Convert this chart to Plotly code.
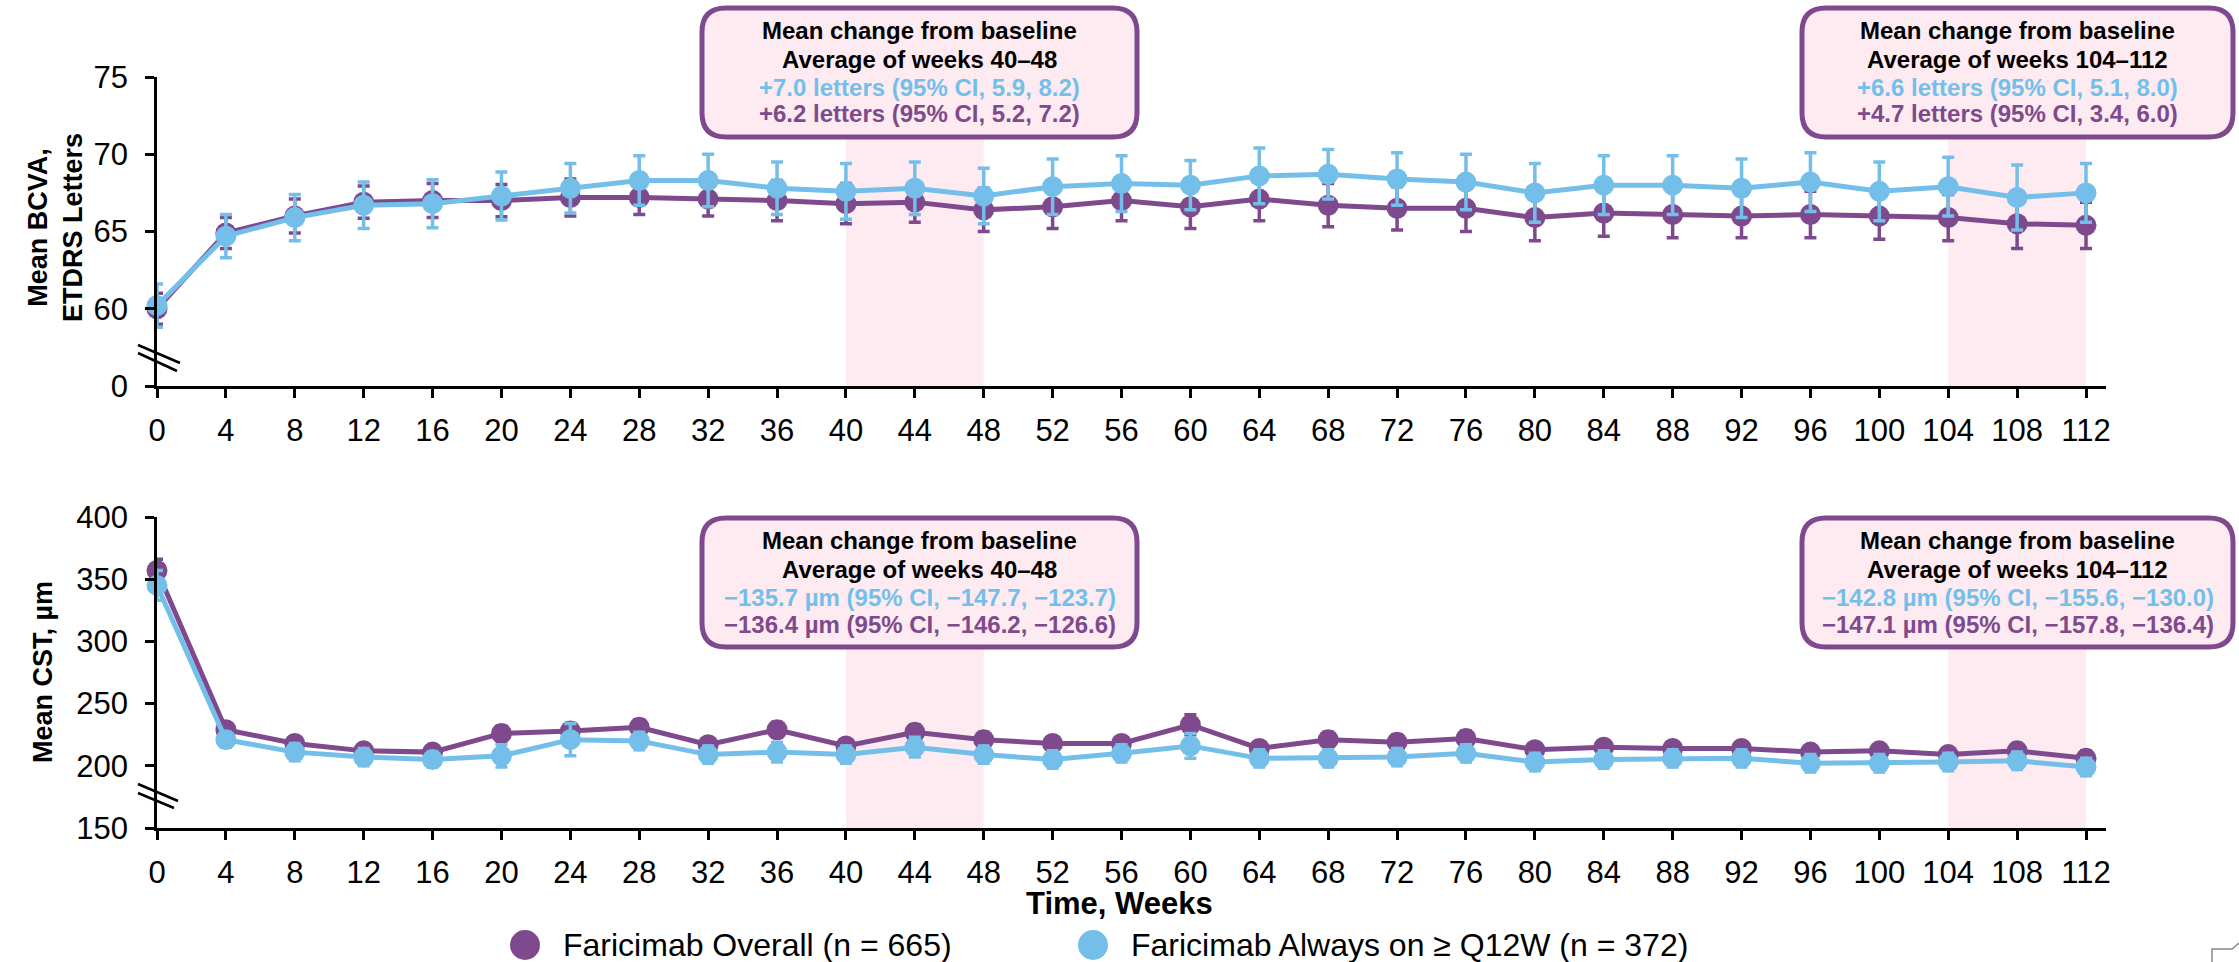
import plotly.graph_objects as go

# ---------------- data ----------------
weeks = list(range(0, 113, 4))

bcva_overall = [60.0, 64.9, 66.0, 66.9, 67.0, 67.0, 67.2, 67.2, 67.1, 67.0, 66.8, 66.9, 66.4, 66.6, 67.0,
                66.6, 67.1, 66.7, 66.5, 66.5, 65.9, 66.2, 66.1, 66.0, 66.1, 66.0, 65.9, 65.5, 65.4]
bcva_overall_err = [1.0, 1.0, 1.1, 1.05, 1.1, 1.05, 1.2, 1.1, 1.1, 1.3, 1.3, 1.3, 1.4, 1.4, 1.3,
                    1.4, 1.4, 1.4, 1.4, 1.5, 1.5, 1.5, 1.5, 1.4, 1.5, 1.5, 1.5, 1.6, 1.5]
bcva_q12 = [60.2, 64.7, 65.9, 66.7, 66.8, 67.3, 67.8, 68.3, 68.3, 67.8, 67.6, 67.8, 67.3, 67.9, 68.1,
            68.0, 68.6, 68.7, 68.4, 68.2, 67.5, 68.0, 68.0, 67.8, 68.2, 67.6, 67.9, 67.2, 67.5]
bcva_q12_err = [1.4, 1.4, 1.5, 1.5, 1.55, 1.55, 1.6, 1.6, 1.7, 1.7, 1.8, 1.7, 1.8, 1.8, 1.8,
                1.6, 1.8, 1.6, 1.7, 1.8, 1.9, 1.9, 1.9, 1.9, 1.9, 1.9, 1.9, 2.1, 1.9]

cst_overall = [357, 229, 218, 212, 211, 226, 228, 231, 217, 229, 216, 227, 221, 218, 218,
               233, 214, 221, 219, 222, 213, 215, 214, 214, 211, 212, 209, 212, 206]
cst_overall_err = [9, 5, 5, 5, 5, 6, 6, 6, 5, 6, 5, 6, 6, 5, 5,
                   8, 5, 6, 6, 6, 5, 5, 5, 5, 5, 5, 5, 6, 6]
cst_q12 = [345, 221, 211, 207, 205, 208, 221, 220, 209, 211, 209, 215, 209, 205, 210,
           216, 206, 206, 207, 210, 203, 205, 206, 206, 202, 202, 203, 204, 199]
cst_q12_err = [12, 6, 7, 7, 6, 9, 13, 7, 7, 8, 7, 8, 7, 7, 7,
               10, 7, 7, 7, 7, 7, 7, 7, 7, 7, 7, 7, 7, 7]

bcva_ticks = [55, 60, 65, 70, 75]
bcva_ticktext = ["0", "60", "65", "70", "75"]
cst_ticks = [150, 200, 250, 300, 350, 400]

series_names = ["Faricimab Overall (n = 665)", "Faricimab Always on ≥ Q12W (n = 372)"]

box_texts_top = [
    ["Mean change from baseline", "Average of weeks 40–48",
     "+7.0 letters (95% CI, 5.9, 8.2)", "+6.2 letters (95% CI, 5.2, 7.2)"],
    ["Mean change from baseline", "Average of weeks 104–112",
     "+6.6 letters (95% CI, 5.1, 8.0)", "+4.7 letters (95% CI, 3.4, 6.0)"],
]
box_texts_bottom = [
    ["Mean change from baseline", "Average of weeks 40–48",
     "−135.7 µm (95% CI, −147.7, −123.7)", "−136.4 µm (95% CI, −146.2, −126.6)"],
    ["Mean change from baseline", "Average of weeks 104–112",
     "−142.8 µm (95% CI, −155.6, −130.0)", "−147.1 µm (95% CI, −157.8, −136.4)"],
]
shade_ranges = [(40, 48), (104, 112)]

# ---------------- style ----------------
PURPLE = "#7E4A8D"
BLUE = "#74BFEA"
SHADE = "#FDEBF1"
FONT = "Arial, Liberation Sans, sans-serif"

W, H = 2239, 962
L, R = 157, 2106          # plot area left/right (px)
T, B = 77, 828            # plot area top/bottom (px)
PW, PH = R - L, B - T


def px_x(x):
    return (x - L) / PW


def px_y(y):
    return (B - y) / PH


fig = go.Figure()


def add_series(x, y, err, color, xa, ya):
    fig.add_trace(go.Scatter(
        x=x, y=y, mode="lines+markers", xaxis=xa, yaxis=ya,
        line=dict(color=color, width=5),
        marker=dict(color=color, size=21),
        error_y=dict(type="data", array=err, visible=True, color=color, thickness=3.5, width=6),
        cliponaxis=False, showlegend=False, hoverinfo="x+y"))


add_series(weeks, bcva_overall, bcva_overall_err, PURPLE, "x", "y")
add_series(weeks, bcva_q12, bcva_q12_err, BLUE, "x", "y")
add_series(weeks, cst_overall, cst_overall_err, PURPLE, "x2", "y2")
add_series(weeks, cst_q12, cst_q12_err, BLUE, "x2", "y2")

axis_common = dict(showline=True, linecolor="black", linewidth=2.5, ticks="outside",
                   ticklen=9, tickwidth=2.5, tickcolor="black", showgrid=False, zeroline=False,
                   tickfont=dict(family=FONT, size=31, color="black"))

top_bottom_px = 386
bot_top_px = 517
xmax = (R - L) / ((2086 - 157) / 112)
fig.update_layout(
    width=W, height=H,
    margin=dict(l=L, r=W - R, t=T, b=H - B, pad=0),
    plot_bgcolor="white", paper_bgcolor="white",
    xaxis=dict(domain=[0, 1], anchor="y", range=[0, xmax],
               tickvals=weeks, ticklabelstandoff=6, **axis_common),
    yaxis=dict(domain=[px_y(top_bottom_px), 1], anchor="x", range=[55, 75],
               tickvals=bcva_ticks, ticktext=bcva_ticktext, ticklabelstandoff=11, **axis_common),
    xaxis2=dict(domain=[0, 1], anchor="y2", range=[0, xmax],
                tickvals=weeks, ticklabelstandoff=6, **axis_common),
    yaxis2=dict(domain=[0, px_y(bot_top_px)], anchor="x2", range=[150, 400],
                tickvals=cst_ticks, ticklabelstandoff=11, **axis_common),
)

shapes = []
# shaded week windows
for (a, b) in shade_ranges:
    shapes.append(dict(type="rect", xref="x", yref="y", x0=a, x1=b, y0=55, y1=75,
                       fillcolor=SHADE, line=dict(width=0), layer="below"))
    shapes.append(dict(type="rect", xref="x2", yref="y2", x0=a, x1=b, y0=150, y1=400,
                       fillcolor=SHADE, line=dict(width=0), layer="below"))


def rrect_path(x0, y0, x1, y1, r):
    X0, X1 = x0 - L, x1 - L
    Yt, Yb = B - y0, B - y1
    return (f"M {X0 + r},{Yt} L {X1 - r},{Yt} Q {X1},{Yt} {X1},{Yt - r} "
            f"L {X1},{Yb + r} Q {X1},{Yb} {X1 - r},{Yb} L {X0 + r},{Yb} "
            f"Q {X0},{Yb} {X0},{Yb + r} L {X0},{Yt - r} Q {X0},{Yt} {X0 + r},{Yt} Z")


boxes = [(702, 8, 1137, 137), (1802, 8, 2233, 137), (702, 518, 1137, 647), (1802, 518, 2233, 647)]
for (x0, y0, x1, y1) in boxes:
    shapes.append(dict(type="path", xref="paper", yref="paper", xsizemode="pixel", ysizemode="pixel",
                       xanchor=0, yanchor=0, path=rrect_path(x0, y0, x1, y1, 24),
                       fillcolor=SHADE, line=dict(color=PURPLE, width=5), layer="above"))


def line_path(segs):
    s = ""
    for (xa, ya, xb, yb) in segs:
        s += f"M {xa - L},{B - ya} L {xb - L},{B - yb} "
    return s


# axis break marks
shapes.append(dict(type="path", xref="paper", yref="paper", xsizemode="pixel", ysizemode="pixel",
                   xanchor=0, yanchor=0,
                   path=line_path([(138, 345, 180, 363), (138, 353, 177, 371)]),
                   line=dict(color="black", width=2.5)))
shapes.append(dict(type="path", xref="paper", yref="paper", xsizemode="pixel", ysizemode="pixel",
                   xanchor=0, yanchor=0,
                   path=line_path([(138, 784, 178, 801), (138, 793, 174, 808)]),
                   line=dict(color="black", width=2.5)))

# legend circles
legend_items = [(525, PURPLE, 561, series_names[0]), (1093, BLUE, 1129, series_names[1])]
for (cx, col, tx, txt) in legend_items:
    shapes.append(dict(type="circle", xref="paper", yref="paper", xsizemode="pixel", ysizemode="pixel",
                       xanchor=px_x(cx), yanchor=px_y(945), x0=-15, x1=15, y0=-15, y1=15,
                       fillcolor=col, line=dict(width=0)))

# corner artifact bottom-right
shapes.append(dict(type="path", xref="paper", yref="paper", xsizemode="pixel", ysizemode="pixel",
                   xanchor=0, yanchor=0,
                   path=f"M {2212 - L},{B - 962} L {2212 - L},{B - 949} L {2232 - L},{B - 949} L {2239 - L},{B - 943}",
                   line=dict(color="#8a8a8a", width=1.5)))

fig.update_layout(shapes=shapes)

annotations = []


def add_box_text(lines, x0, x1, ytop):
    cx = (x0 + x1) / 2
    offs = [23.7, 52.3, 80.3, 107.0]
    cols = ["black", "black", BLUE, PURPLE]
    for ln, off, col in zip(lines, offs, cols):
        annotations.append(dict(xref="paper", yref="paper", x=px_x(cx), y=px_y(ytop + off),
                                xanchor="center", yanchor="middle", showarrow=False,
                                text=f"<b>{ln}</b>", font=dict(family=FONT, size=24, color=col)))


add_box_text(box_texts_top[0], 702, 1137, 7)
add_box_text(box_texts_top[1], 1802, 2233, 7)
add_box_text(box_texts_bottom[0], 702, 1137, 517)
add_box_text(box_texts_bottom[1], 1802, 2233, 517)

# axis titles
annotations.append(dict(xref="paper", yref="paper", x=px_x(55), y=px_y(228), xanchor="center",
                        yanchor="middle", showarrow=False, textangle=-90,
                        text="<b>Mean BCVA,<br>ETDRS Letters</b>",
                        font=dict(family=FONT, size=27, color="black")))
annotations.append(dict(xref="paper", yref="paper", x=px_x(43), y=px_y(672), xanchor="center",
                        yanchor="middle", showarrow=False, textangle=-90,
                        text="<b>Mean CST, µm</b>",
                        font=dict(family=FONT, size=27, color="black")))
annotations.append(dict(xref="paper", yref="paper", x=px_x(1119), y=px_y(903), xanchor="center",
                        yanchor="middle", showarrow=False, text="<b>Time, Weeks</b>",
                        font=dict(family=FONT, size=31, color="black")))
for (cx, col, tx, txt) in legend_items:
    annotations.append(dict(xref="paper", yref="paper", x=px_x(tx), y=px_y(945), xanchor="left",
                            yanchor="middle", showarrow=False, text=txt,
                            font=dict(family=FONT, size=32, color="black")))

fig.update_layout(annotations=annotations)

fig.write_html("out.html")
